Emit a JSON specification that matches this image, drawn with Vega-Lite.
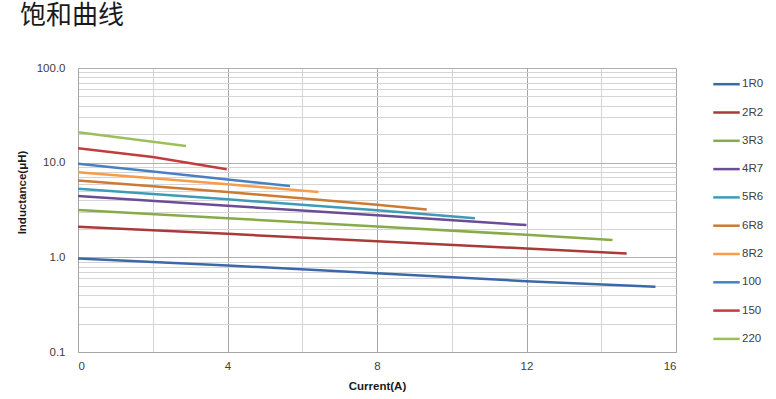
{
  "$schema": "https://vega.github.io/schema/vega-lite/v6.json",
  "autosize": "none",
  "padding": {"left": 78, "top": 68, "right": 100, "bottom": 47},
  "width": 598,
  "height": 284,
  "background": "white",
  "title": {
    "text": "饱和曲线",
    "anchor": "start",
    "frame": "group",
    "font": "Noto Sans CJK SC",
    "fontSize": 26,
    "fontWeight": "normal",
    "color": "#1a1a1a",
    "baseline": "middle",
    "offset": 0,
    "dx": -58,
    "dy": -20.5
  },
  "data": {
    "values": [
      {"part": "1R0", "current": 0, "L": 0.97},
      {"part": "1R0", "current": 4, "L": 0.82},
      {"part": "1R0", "current": 8, "L": 0.68},
      {"part": "1R0", "current": 12, "L": 0.56},
      {"part": "1R0", "current": 15.45, "L": 0.49},
      {"part": "2R2", "current": 0, "L": 2.11},
      {"part": "2R2", "current": 4, "L": 1.77},
      {"part": "2R2", "current": 8, "L": 1.48},
      {"part": "2R2", "current": 12, "L": 1.24},
      {"part": "2R2", "current": 14.68, "L": 1.1},
      {"part": "3R3", "current": 0, "L": 3.16},
      {"part": "3R3", "current": 4, "L": 2.59},
      {"part": "3R3", "current": 8, "L": 2.12},
      {"part": "3R3", "current": 12, "L": 1.73},
      {"part": "3R3", "current": 14.3, "L": 1.52},
      {"part": "4R7", "current": 0, "L": 4.44},
      {"part": "4R7", "current": 4, "L": 3.51},
      {"part": "4R7", "current": 8, "L": 2.78},
      {"part": "4R7", "current": 12, "L": 2.19},
      {"part": "5R6", "current": 0, "L": 5.31},
      {"part": "5R6", "current": 4, "L": 4.1},
      {"part": "5R6", "current": 8, "L": 3.15},
      {"part": "5R6", "current": 10.62, "L": 2.58},
      {"part": "6R8", "current": 0, "L": 6.5},
      {"part": "6R8", "current": 4, "L": 4.9},
      {"part": "6R8", "current": 8, "L": 3.6},
      {"part": "6R8", "current": 9.33, "L": 3.21},
      {"part": "8R2", "current": 0, "L": 7.9},
      {"part": "8R2", "current": 4, "L": 5.9},
      {"part": "8R2", "current": 6.43, "L": 4.9},
      {"part": "100", "current": 0, "L": 9.76},
      {"part": "100", "current": 2, "L": 8.05},
      {"part": "100", "current": 4, "L": 6.65},
      {"part": "100", "current": 5.67, "L": 5.66},
      {"part": "150", "current": 0, "L": 14.2},
      {"part": "150", "current": 2, "L": 11.5},
      {"part": "150", "current": 3.98, "L": 8.5},
      {"part": "220", "current": 0, "L": 21.0},
      {"part": "220", "current": 2.89, "L": 15.0}
    ]
  },
  "mark": {"type": "line", "strokeWidth": 2.5, "clip": true},
  "encoding": {
    "x": {
      "field": "current",
      "type": "quantitative",
      "scale": {"domain": [0, 16], "nice": false, "zero": false},
      "axis": {
        "title": "Current(A)",
        "values": [0, 2, 4, 6, 8, 10, 12, 14, 16],
        "labelExpr": "datum.value % 4 === 0 ? datum.label : ''",
        "labelFont": "Liberation Sans",
        "labelFontSize": 11.5,
        "labelColor": "#404040",
        "labelPadding": 8,
        "ticks": false,
        "domainColor": "#a6a6a6",
        "grid": true,
        "gridColor": {"condition": {"test": "datum.value % 4 === 0", "value": "#a6a6a6"}, "value": "#d4d4d4"},
        "gridWidth": 1,
        "titleFont": "Liberation Sans",
        "titleFontSize": 11.5,
        "titleFontWeight": "bold",
        "titleColor": "#1a1a1a",
        "titleX": 299,
        "titleY": 34,
        "titleBaseline": "middle"
      }
    },
    "y": {
      "field": "L",
      "type": "quantitative",
      "scale": {"type": "log", "domain": [0.1, 100], "nice": false},
      "axis": {
        "title": "Inductance(μH)",
        "values": [0.1, 0.2, 0.3, 0.4, 0.5, 0.6, 0.7, 0.8, 0.9, 1, 2, 3, 4, 5, 6, 7, 8, 9, 10, 20, 30, 40, 50, 60, 70, 80, 90, 100],
        "labelExpr": "indexof([0.1, 1, 10, 100], datum.value) >= 0 ? format(datum.value, '.1f') : ''",
        "labelFont": "Liberation Sans",
        "labelFontSize": 11.5,
        "labelColor": "#404040",
        "labelPadding": 13,
        "ticks": false,
        "domainColor": "#a6a6a6",
        "grid": true,
        "gridColor": {"condition": {"test": "indexof([0.1, 1, 10, 100], datum.value) >= 0", "value": "#b0b0b0"}, "value": "#d4d4d4"},
        "gridWidth": 1,
        "titleFont": "Liberation Sans",
        "titleFontSize": 11.5,
        "titleFontWeight": "bold",
        "titleColor": "#1a1a1a",
        "titleAngle": -90,
        "titleX": -56,
        "titleY": 124,
        "titleAlign": "center",
        "titleBaseline": "middle"
      }
    },
    "color": {
      "field": "part",
      "type": "nominal",
      "sort": ["1R0", "2R2", "3R3", "4R7", "5R6", "6R8", "8R2", "100", "150", "220"],
      "scale": {
        "domain": ["1R0", "2R2", "3R3", "4R7", "5R6", "6R8", "8R2", "100", "150", "220"],
        "range": ["#3d68a8", "#a93a3a", "#87ab48", "#6b4c96", "#3d9bb6", "#cb7b32", "#f69c4a", "#4a80c2", "#c23c3c", "#9dbf5b"]
      },
      "legend": {
        "title": null,
        "orient": "none",
        "legendX": 634,
        "legendY": 1.7,
        "symbolType": "stroke",
        "symbolSize": 700,
        "symbolStrokeWidth": 2.5,
        "rowPadding": 8.3,
        "labelFont": "Liberation Sans",
        "labelFontSize": 11.5,
        "labelColor": "#404040",
        "labelOffset": 1
      }
    }
  },
  "config": {
    "view": {"stroke": null}
  }
}
